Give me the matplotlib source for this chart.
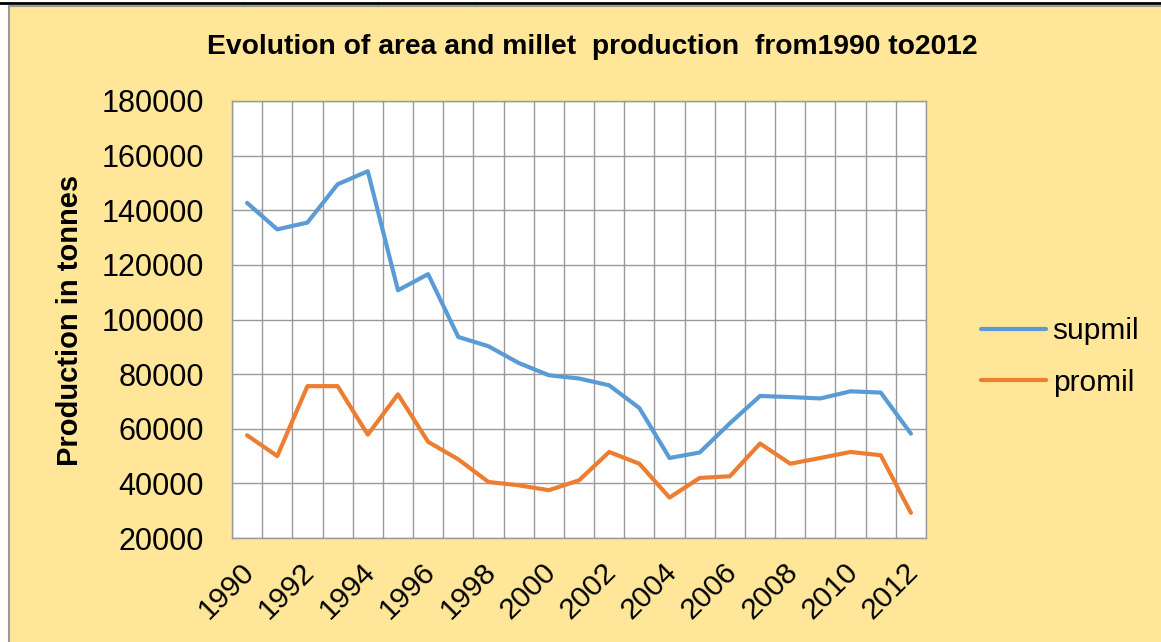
import matplotlib
matplotlib.use("Agg")
import matplotlib.pyplot as plt
from matplotlib.lines import Line2D
from matplotlib.patches import Rectangle
from matplotlib.transforms import ScaledTranslation

# data
years = list(range(1990, 2013))
supmil = [142700, 133000, 135500, 149500, 154300, 110700, 116600, 93600, 90200, 84100,
          79600, 78400, 75900, 67600, 49300, 51300, 62000, 72000, 71600, 71100,
          73700, 73250, 58200]
promil = [57600, 50000, 75600, 75600, 57850, 72600, 55200, 48800, 40500, 39300,
          37500, 41100, 51500, 47200, 34800, 42000, 42600, 54600, 47200, 49300,
          51500, 50300, 29200]
yticks = list(range(20000, 180001, 20000))
xtick_years = years[::2]

W, H = 1161, 642
bg = "#FFE699"

fig = plt.figure(figsize=(W / 100, H / 100), dpi=100)
fig.patch.set_facecolor("white")

# page decorations: black rule on top, gray chart frame
fig.add_artist(Rectangle((10 / W, 0), 1 - 10 / W, 1 - 7 / H, transform=fig.transFigure,
                         facecolor=bg, edgecolor="none", zorder=-10))
fig.add_artist(Line2D([0, 1], [1 - 2.5 / H, 1 - 2.5 / H], transform=fig.transFigure,
                      color="black", lw=2))
for xp in [243, 378, 475]:
    fig.add_artist(Line2D([xp / W, xp / W], [1 - 2.5 / H, 1 - 6 / H], transform=fig.transFigure,
                          color="black", lw=0.8))
fig.add_artist(Line2D([9 / W, 1], [1 - 6 / H, 1 - 6 / H], transform=fig.transFigure,
                      color="#9a9a9a", lw=1.5))
fig.add_artist(Line2D([9 / W, 9 / W], [0, 1 - 6 / H], transform=fig.transFigure,
                      color="#9a9a9a", lw=1.5))

ax = fig.add_axes([232 / W, 1 - 538 / H, (926 - 232) / W, (538 - 101) / H])
ax.set_facecolor("white")

x = list(range(len(years)))
ax.plot(x, supmil, color="#5B9BD5", lw=3, label="supmil", solid_capstyle="round")
ax.plot(x, promil, color="#ED7D31", lw=3, label="promil", solid_capstyle="round")

ax.set_xlim(-0.5, len(years) - 0.5)
ax.set_ylim(20000, 180000)
ax.set_yticks(yticks)
ax.set_yticklabels([str(v) for v in yticks], fontsize=22, family="Liberation Sans")
ax.set_xticks([years.index(y) for y in xtick_years])
ax.set_xticklabels([str(y) for y in xtick_years], fontsize=21.5, family="Liberation Sans",
                   rotation=45, ha="right", rotation_mode="anchor")
ax.tick_params(axis="both", length=0)
ax.tick_params(axis="y", pad=20)
ax.tick_params(axis="x", pad=14)
shift = ScaledTranslation(-7 / 100, 0, fig.dpi_scale_trans)
for lbl in ax.get_xticklabels():
    lbl.set_transform(lbl.get_transform() + shift)

# gridlines between categories, as in the spreadsheet chart
ax.set_xticks([i - 0.5 for i in range(len(years) + 1)], minor=True)
ax.tick_params(axis="x", which="minor", length=0)
ax.grid(True, axis="x", which="minor", color="#999999", lw=1)
ax.grid(True, axis="y", which="major", color="#999999", lw=1)
ax.set_axisbelow(True)
for s in ax.spines.values():
    s.set_color("#999999")
    s.set_linewidth(1)

fig.text(70 / W, 1 - 320 / H, "Production in tonnes", rotation=90, ha="center", va="center",
         fontsize=21, fontweight="bold", family="Liberation Sans")
fig.text(592 / W, 1 - 47 / H, "Evolution of area and millet  production  from1990 to2012",
         ha="center", va="center", fontsize=20.3, fontweight="bold",
         family="Liberation Sans")

leg = ax.legend(loc="center left", bbox_to_anchor=(966 / W, 1 - 357 / H),
                bbox_transform=fig.transFigure, frameon=False,
                handlelength=2.17, handletextpad=0.23, labelspacing=0.8, borderpad=0,
                prop={"family": "Liberation Sans", "size": 21.5})

fig.savefig("out.png", dpi=100, facecolor=fig.get_facecolor())
